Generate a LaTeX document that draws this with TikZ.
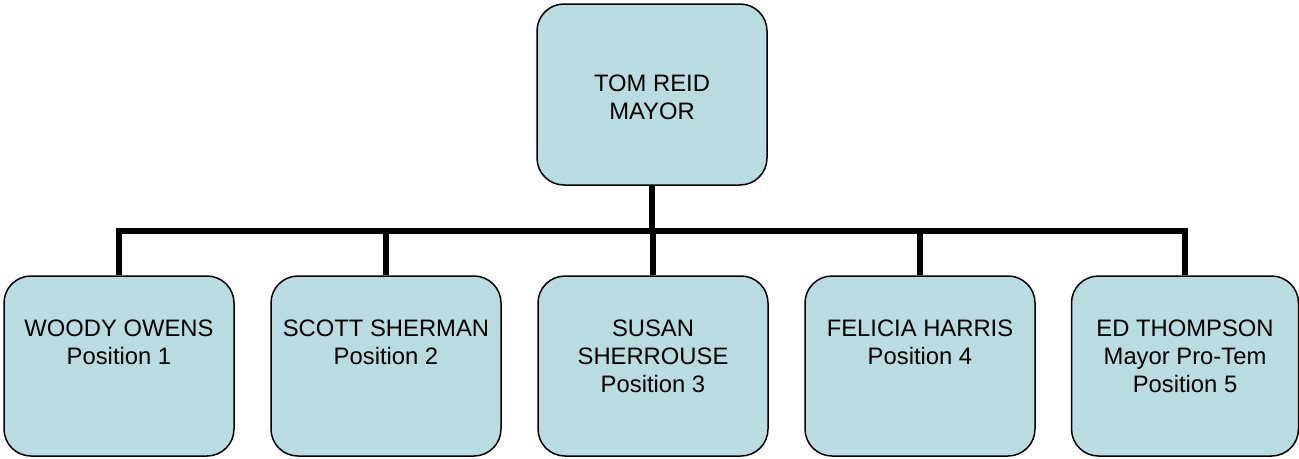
\documentclass[tikz,border=0pt]{standalone}
\usepackage{fontspec}
\setmainfont{Liberation Sans}
\definecolor{boxfill}{RGB}{184,220,224}
\begin{document}
\begin{tikzpicture}[x=1pt,y=-1pt,
  box/.style={draw=black,line width=1.5pt,fill=boxfill,rounded corners=27pt,
    minimum width=230pt,minimum height=181pt,inner sep=0pt},
  lbl/.style={align=center,anchor=base,inner sep=0pt,
    font=\fontsize{23.8pt}{28pt}\selectfont},
  conn/.style={line width=6pt,line join=miter,line cap=butt}]
\useasboundingbox (0,0) rectangle (1299,458);
\node[box] (top) at (652,94.5) {};
\node[box,minimum height=180pt] (b1) at (119,366) {};
\node[box,minimum height=180pt] (b2) at (386,366) {};
\node[box,minimum height=180pt] (b3) at (653,366) {};
\node[box,minimum height=180pt] (b4) at (920,366) {};
\node[box,minimum height=180pt,minimum width=227pt] (b5) at (1185,366) {};
\node[lbl] (ttop) at (652,119) {TOM REID\\MAYOR};
\node[lbl] (t1) at (119,364) {WOODY OWENS\\Position 1};
\node[lbl] (t2) at (386,364) {SCOTT SHERMAN\\Position 2};
\node[lbl] (t3) at (653,392) {SUSAN\\SHERROUSE\\Position 3};
\node[lbl] (t4) at (920,364) {FELICIA HARRIS\\Position 4};
\node[lbl] (t5) at (1185,392) {ED THOMPSON\\Mayor Pro-Tem\\Position 5};
\coordinate (j) at (652,231);
\draw[conn] (top.south) -- (j);
\draw[conn] (b1.north) |- (j);
\draw[conn] (b5.north) |- (j);
\draw[conn] (b2.north) -- (b2.north |- j);
\draw[conn] (b3.north) -- (b3.north |- j);
\draw[conn] (b4.north) -- (b4.north |- j);
\end{tikzpicture}
\end{document}
